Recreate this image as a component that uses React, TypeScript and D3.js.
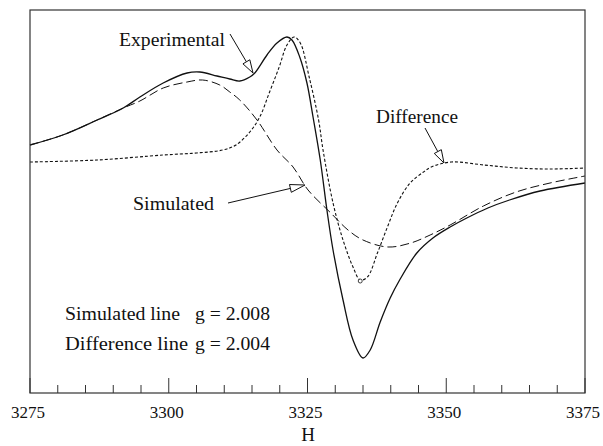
import * as d3 from "d3";

// H (field) values and intensities in arbitrary units
const expH = [3275.0, 3280.9, 3287.1, 3291.8, 3294.8, 3299.0, 3303.3, 3305.6, 3308.7, 3311.0, 3312.8, 3314.6, 3315.5, 3317.7, 3319.5, 3321.3, 3322.2, 3323.6, 3324.9, 3326.0, 3327.3, 3328.5, 3329.6, 3331.4, 3333.2, 3335.0, 3336.3, 3338.1, 3339.9, 3341.6, 3344.7, 3347.6, 3350.7, 3353.7, 3357.5, 3361.4, 3366.9, 3375.0];
const expI = [58, 68, 83, 95, 106, 120, 130, 131, 127, 124, 122, 126, 130, 148, 160, 166, 163, 146, 120, 86, 43, -7, -47, -97, -137, -155, -147, -119, -95, -77, -50, -35, -24, -15, -5, 3, 12, 20];

const simH = [3275.0, 3280.9, 3287.1, 3291.8, 3294.8, 3299.0, 3303.3, 3306.1, 3309.2, 3311.0, 3312.8, 3315.9, 3319.5, 3322.4, 3325.1, 3329.2, 3332.3, 3335.0, 3339.5, 3343.6, 3347.1, 3350.7, 3356.7, 3362.6, 3368.7, 3375.0];
const simI = [58, 68, 83, 95, 102, 115, 121, 123, 118, 111, 103, 83, 53, 36, 13, -10, -27, -37, -44, -40, -32, -22, -3, 11, 20, 27];

const difH = [3275.0, 3287.1, 3299.0, 3305.0, 3309.7, 3312.1, 3314.6, 3316.4, 3318.1, 3319.9, 3321.3, 3322.6, 3323.7, 3325.3, 3327.0, 3327.8, 3329.6, 3331.4, 3333.2, 3334.5, 3335.8, 3337.6, 3339.4, 3341.2, 3343.5, 3345.9, 3347.3, 3350.9, 3356.8, 3362.7, 3368.9, 3375.0];
const difI = [41, 43, 48, 50, 53, 58, 71, 86, 110, 136, 158, 166, 160, 126, 83, 53, 0, -37, -64, -77, -74, -50, -24, 0, 20, 31, 36, 41, 38, 35, 34, 35];

const xTicks = d3.range(3275, 3376, 5);
const xLabels = [3275, 3300, 3325, 3350, 3375];

const W = 603;
const H = 446;
const left = 30, right = 585, top = 10, bottom = 393;
const serif = "Liberation Serif";

const x = d3.scaleLinear().domain([3275, 3375]).range([left, right]);
const y = d3.scaleLinear().domain([-190, 193]).range([bottom, top]);

const line = d3
  .line<[number, number]>()
  .x((d) => x(d[0]))
  .y((d) => y(d[1]))
  .curve(d3.curveCatmullRom.alpha(0.5));

const zip = (a: number[], b: number[]) => a.map((v, i) => [v, b[i]] as [number, number]);

// open triangular arrow head, tip at (x2,y2)
const Arrow = ({ x1, y1, x2, y2, len = 13, hw = 4 }: any) => {
  const a = Math.atan2(y2 - y1, x2 - x1);
  const bx = x2 - len * Math.cos(a);
  const by = y2 - len * Math.sin(a);
  const px = -Math.sin(a) * hw;
  const py = Math.cos(a) * hw;
  return (
    <g stroke="#111" strokeWidth={1} fill="white">
      <line x1={x1} y1={y1} x2={bx} y2={by} />
      <path d={`M${x2},${y2}L${bx + px},${by + py}L${bx - px},${by - py}Z`} />
    </g>
  );
};

const Label = ({ x, y, w, size = 19, children }: any) => (
  <text
    x={x}
    y={y}
    fontSize={size}
    fill="#111"
    fontFamily={serif}
    textLength={w}
    lengthAdjust="spacingAndGlyphs"
  >
    {children}
  </text>
);

export default function App() {
  // minimum of the difference line, marked with a small circle
  const minIdx = d3.minIndex(difI);
  return (
    <svg
      width={W}
      height={H}
      style={{ position: "absolute", left: 0, top: 0, background: "white" }}
    >
      <rect x={0} y={0} width={W} height={H} fill="white" />

      {/* curves */}
      <path d={line(zip(simH, simI)) || ""} fill="none" stroke="#111" strokeWidth={1} strokeDasharray="9,4" />
      <path d={line(zip(difH, difI)) || ""} fill="none" stroke="#111" strokeWidth={1.1} strokeDasharray="3,2" />
      <path d={line(zip(expH, expI)) || ""} fill="none" stroke="#111" strokeWidth={1.3} />
      <circle cx={x(difH[minIdx])} cy={y(difI[minIdx]) + 1} r={2} fill="white" stroke="#111" strokeWidth={0.8} />

      {/* frame */}
      <rect x={left} y={top} width={right - left} height={bottom - top} fill="none" stroke="#333" strokeWidth={1.2} />

      {/* ticks, pointing inward */}
      {xTicks.map((t) => {
        const major = (t - 3275) % 25 === 0;
        return (
          <line key={t} x1={x(t)} x2={x(t)} y1={bottom} y2={bottom - (major ? 15 : 8)} stroke="#333" strokeWidth={1} />
        );
      })}
      {xLabels.map((t) => (
        <text key={t} x={x(t) - 2} y={418} textAnchor="middle" fontSize={17} fill="#111" fontFamily={serif}>
          {t}
        </text>
      ))}
      <text x={308} y={441} textAnchor="middle" fontSize={19} fill="#111" fontFamily={serif}>
        H
      </text>

      {/* annotations */}
      <Label x={119} y={46} w={106}>Experimental</Label>
      <Arrow x1={230} y1={34} x2={253} y2={73} />
      <Label x={376} y={123} w={82}>Difference</Label>
      <Arrow x1={425} y1={128} x2={444} y2={163} />
      <Label x={133} y={210} w={81}>Simulated</Label>
      <Arrow x1={228} y1={203} x2={305} y2={185} len={15} />

      <Label x={65} y={320} w={115}>Simulated line</Label>
      <Label x={195} y={320} w={75}>g = 2.008</Label>
      <Label x={65} y={350} w={123}>Difference line</Label>
      <Label x={195} y={350} w={75}>g = 2.004</Label>
    </svg>
  );
}
